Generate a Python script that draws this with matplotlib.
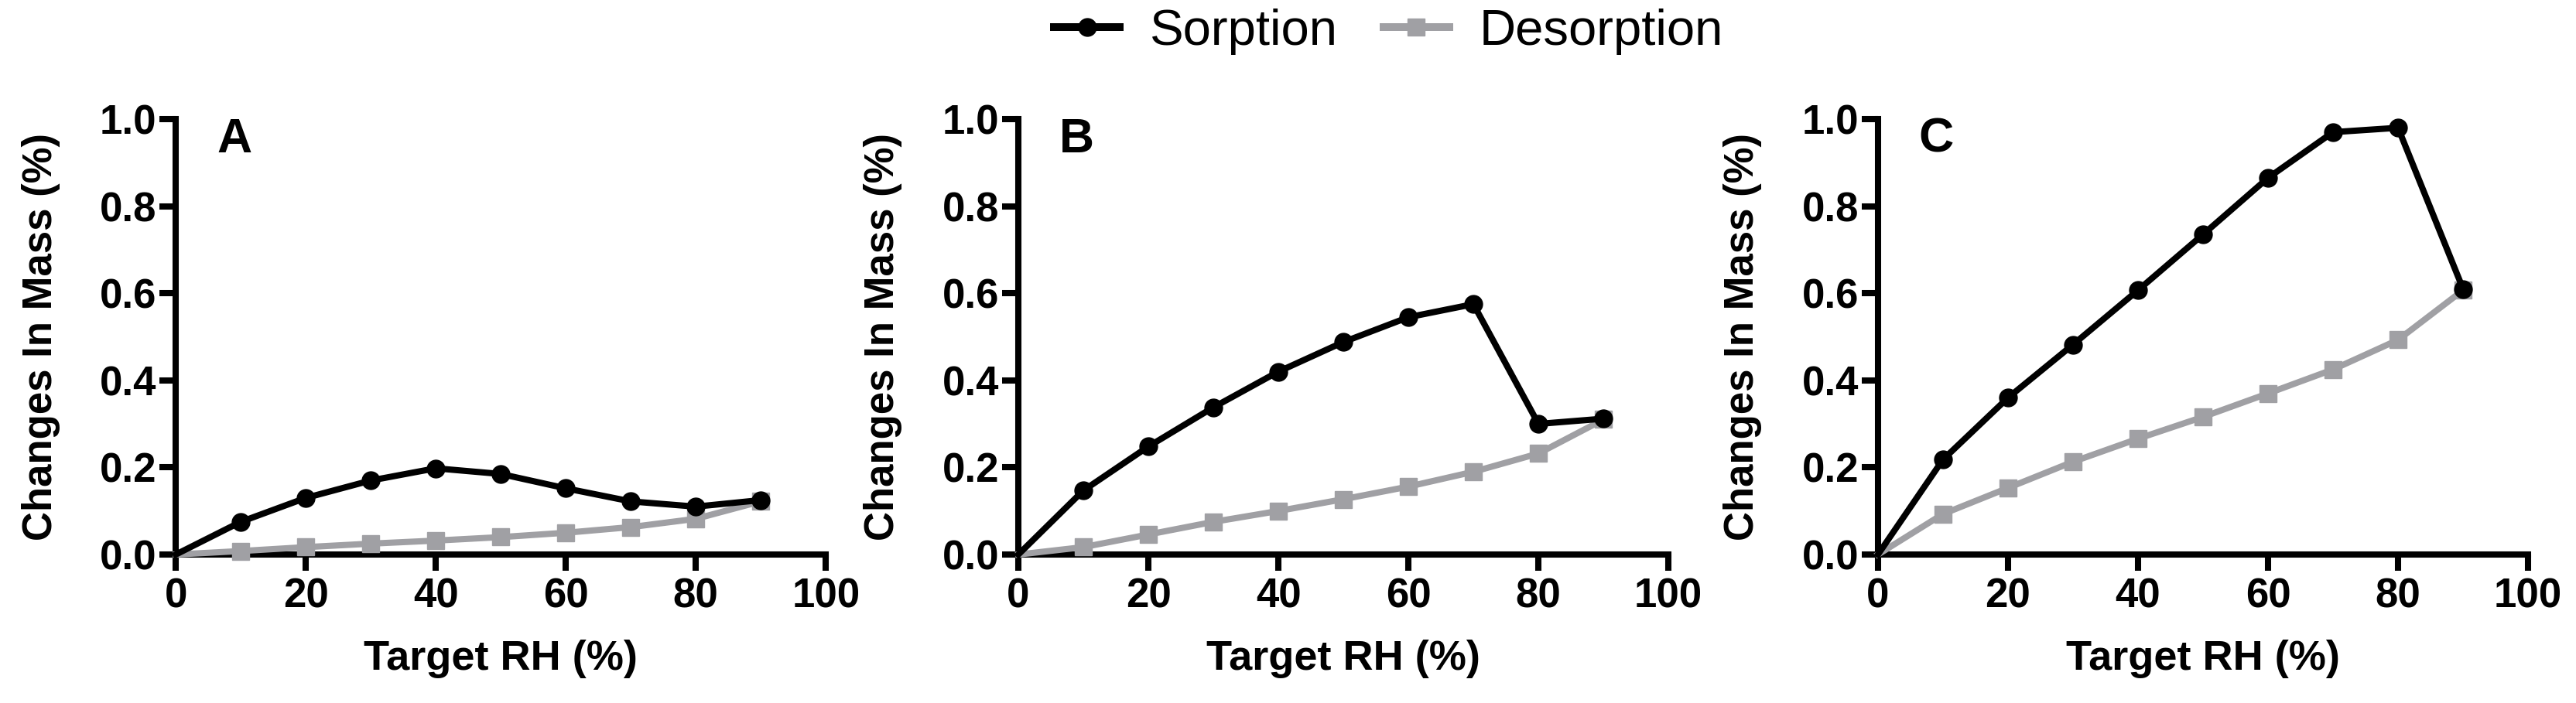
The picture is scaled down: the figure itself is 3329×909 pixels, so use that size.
import matplotlib
matplotlib.use("Agg")
import matplotlib.pyplot as plt

plt.rcParams['font.family'] = ['Liberation Sans', 'DejaVu Sans']

# Target RH (%)
rh = [0, 10, 20, 30, 40, 50, 60, 70, 80, 90]

# changes in mass (%)
sorption_a = [0, 0.075, 0.130, 0.170, 0.198, 0.185, 0.152, 0.122, 0.110, 0.125]
desorption_a = [0, 0.008, 0.017, 0.025, 0.032, 0.040, 0.050, 0.063, 0.082, 0.122]

sorption_b = [0, 0.147, 0.248, 0.338, 0.420, 0.488, 0.545, 0.575, 0.300, 0.312]
desorption_b = [0, 0.017, 0.046, 0.075, 0.100, 0.127, 0.156, 0.190, 0.232, 0.310]

sorption_c = [0, 0.218, 0.360, 0.482, 0.607, 0.735, 0.865, 0.970, 0.980, 0.610]
desorption_c = [0, 0.093, 0.153, 0.213, 0.266, 0.316, 0.370, 0.425, 0.493, 0.607]

panel_labels = ['A', 'B', 'C']
x_ticks = [0, 20, 40, 60, 80, 100]
y_ticks = [0.0, 0.2, 0.4, 0.6, 0.8, 1.0]

black = '#000000'
grey = '#a0a0a4'

fig = plt.figure(figsize=(33.3, 9.09), dpi=100)

lefts = [0.0682, 0.3952, 0.7288]
panels = [(sorption_a, desorption_a), (sorption_b, desorption_b), (sorption_c, desorption_c)]

for i, (sorp, desorp) in enumerate(panels):
    ax = fig.add_axes([lefts[i], 0.2112, 0.2523, 0.6194])
    ax.plot(rh, desorp, color=grey, lw=5.8, marker='s', ms=16, markevery=slice(1, None),
            clip_on=False, zorder=3, label='Desorption')
    ax.plot(rh, sorp, color=black, lw=5.8, marker='o', ms=16.5, markevery=slice(1, None),
            clip_on=False, zorder=4, label='Sorption')

    ax.set_xlim(0, 100)
    ax.set_ylim(0, 1.0)
    ax.set_xticks(x_ticks)
    ax.set_yticks(y_ticks)
    ax.set_yticklabels([f'{v:.1f}' for v in y_ticks])

    for side in ['top', 'right']:
        ax.spines[side].set_visible(False)
    for side in ['left', 'bottom']:
        ax.spines[side].set_linewidth(5.8)

    ax.tick_params(axis='both', length=15, width=5.8, labelsize=38)
    ax.tick_params(axis='x', pad=6)
    ax.tick_params(axis='y', pad=3)
    for lab in ax.get_xticklabels() + ax.get_yticklabels():
        lab.set_fontweight('bold')

    ax.set_xlabel('Target RH (%)', fontsize=39, fontweight='bold')
    ax.set_ylabel('Changes In Mass (%)', fontsize=38, fontweight='bold')
    ax.xaxis.set_label_coords(0.5, -0.195)
    ax.yaxis.set_label_coords(-0.178, 0.5)

    ax.text(0.063, 0.924, panel_labels[i], transform=ax.transAxes,
            fontsize=45, fontweight='bold', va='baseline', ha='left')

    if i == 0:
        handles, labels = ax.get_legend_handles_labels()

leg = fig.legend(handles[::-1], labels[::-1], loc='center', bbox_to_anchor=(0.539, 0.955),
                 ncol=2, frameon=False, fontsize=47, handlelength=1.3,
                 handletextpad=0.6, columnspacing=0.9)
for line in leg.get_lines():
    line.set_linewidth(7.2)

fig.savefig('out.png', dpi=100)
